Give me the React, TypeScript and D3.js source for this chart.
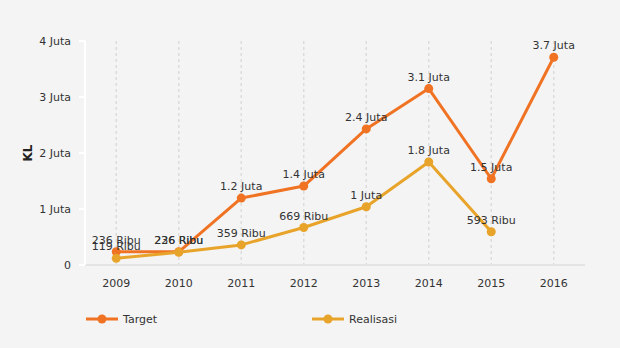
import React from "react";
import * as d3 from "d3";

const years = ["2009", "2010", "2011", "2012", "2013", "2014", "2015", "2016"];
const targetValues: (number | null)[] = [236000, 236000, 1195000, 1410000, 2430000, 3150000, 1540000, 3710000];
const realisasiValues: (number | null)[] = [119000, 226000, 359000, 669000, 1040000, 1840000, 593000, null];
const yTicks = [0, 1000000, 2000000, 3000000, 4000000];
const seriesNames = ["Target", "Realisasi"];
const seriesColors = ["#f07324", "#e8a42a"];

const W = 620;
const H = 348;
const FONT = "'DejaVu Sans', Verdana, sans-serif";

function fmt(v: number): string {
  if (v === 0) return "0";
  if (v < 1e6) return Math.round(v / 1000) + " Ribu";
  return d3.format(".1~f")(v / 1e6) + " Juta";
}

export default function App() {
  const x = d3.scaleBand<string>().domain(years).range([85, 585]);
  const y = d3.scaleLinear().domain([0, 4000000]).range([265, 41]);
  const cx = (yr: string) => (x(yr) as number) + x.bandwidth() / 2;

  const series = [targetValues, realisasiValues];
  const line = d3
    .line<number | null>()
    .defined((d) => d != null)
    .x((_, i) => cx(years[i]))
    .y((d) => y(d as number));

  return (
    <svg width={W} height={H} style={{ position: "absolute", left: 0, top: 0, display: "block" }} fontFamily={FONT}>
      <rect width={W} height={H} fill="#f4f4f4" />
      {/* vertical dotted gridlines */}
      {years.map((yr) => (
        <line key={yr} x1={cx(yr)} x2={cx(yr)} y1={41} y2={265} stroke="#dcdcdc" strokeWidth={1.5} strokeDasharray="3,3" />
      ))}
      {/* baseline */}
      <line x1={85} x2={585} y1={y(0)} y2={y(0)} stroke="#e4e4e4" strokeWidth={2} />
      {/* y axis */}
      <line x1={85} x2={85} y1={41} y2={265} stroke="#ffffff" strokeWidth={2} />
      {yTicks.map((t) => (
        <g key={t}>
          <line x1={79} x2={85} y1={y(t)} y2={y(t)} stroke="#ffffff" strokeWidth={2} />
          <text x={71} y={y(t)} dy="0.35em" textAnchor="end" fontSize={11} fill="#333">
            {fmt(t)}
          </text>
        </g>
      ))}
      <text transform={`translate(28,${153}) rotate(-90)`} textAnchor="middle" fontSize={12} fontWeight="bold" fill="#222" dy="0.35em">
        KL
      </text>
      {/* x axis labels */}
      {years.map((yr) => (
        <text key={yr} x={cx(yr)} y={287} textAnchor="middle" fontSize={11} fill="#333">
          {yr}
        </text>
      ))}
      {/* series */}
      {series.map((vals, si) => (
        <g key={si}>
          <path d={line(vals) || ""} fill="none" stroke={seriesColors[si]} strokeWidth={3} strokeLinejoin="round" />
          {vals.map((v, i) =>
            v == null ? null : (
              <circle key={i} cx={cx(years[i])} cy={y(v)} r={4.5} fill={seriesColors[si]} />
            )
          )}
        </g>
      ))}
      {series.map((vals, si) => (
        <g key={"l" + si}>
          {vals.map((v, i) =>
            v == null ? null : (
              <text key={i} x={cx(years[i])} y={y(v) - 8} textAnchor="middle" fontSize={11} fill="#333">
                {fmt(v)}
              </text>
            )
          )}
        </g>
      ))}
      {/* legend */}
      {seriesNames.map((name, i) => {
        const lx = i === 0 ? 86 : 312;
        return (
          <g key={name}>
            <line x1={lx} x2={lx + 32} y1={319} y2={319} stroke={seriesColors[i]} strokeWidth={3} />
            <circle cx={lx + 16} cy={319} r={4.5} fill={seriesColors[i]} />
            <text x={lx + 37} y={319} dy="0.35em" fontSize={11} fill="#333">
              {name}
            </text>
          </g>
        );
      })}
    </svg>
  );
}
